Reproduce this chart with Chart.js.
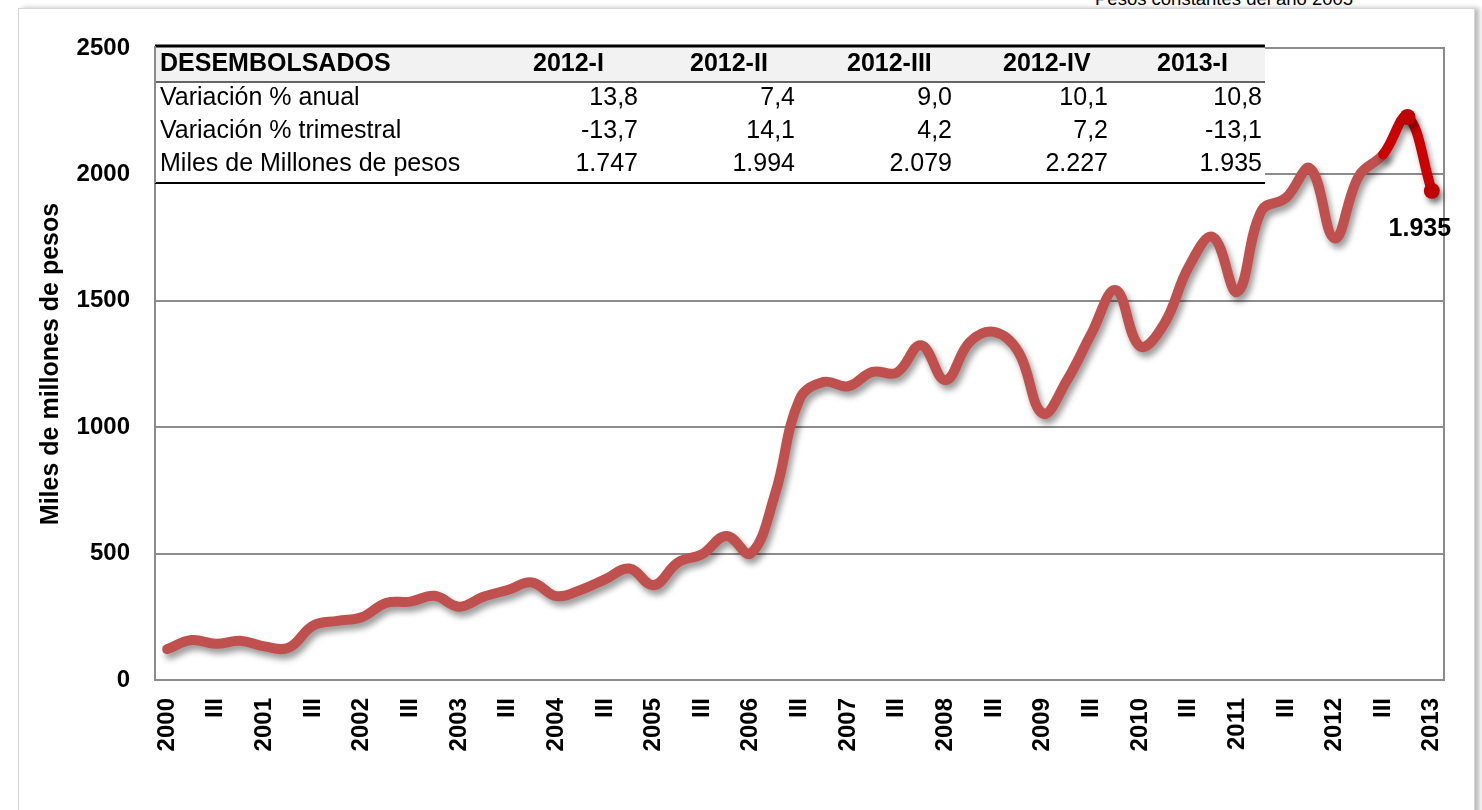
<!DOCTYPE html>
<html>
<head>
<meta charset="utf-8">
<script src="https://cdn.jsdelivr.net/npm/chart.js@4.4.1/dist/chart.umd.min.js"></script>
<style>
  html, body { margin:0; padding:0; background:#ffffff; width:1482px; height:810px; overflow:hidden; }
  #card { position:absolute; left:18px; top:8px; width:1455px; height:840px; border:1px solid #d4d4d4; box-shadow:4px 0 5px rgba(0,0,0,0.28); background:#fff; }
  #note { position:absolute; top:-12px; left:1095px; font:18.5px "Liberation Sans", Arial, sans-serif; color:#000; white-space:nowrap; }
  #c { position:absolute; left:0; top:0; }
</style>
</head>
<body>
<div id="card"></div>
<div id="note">Pesos constantes del año 2005</div>
<canvas id="c" width="1482" height="810"></canvas>
<script>
// ---- Data ----
const quarterLabels = [
  '2000','','III','', '2001','','III','', '2002','','III','', '2003','','III','',
  '2004','','III','', '2005','','III','', '2006','','III','', '2007','','III','',
  '2008','','III','', '2009','','III','', '2010','','III','', '2011','','III','',
  '2012','','III','', '2013'
];
const desembolsos = [
  122, 158, 143, 155, 133, 128, 215, 234, 248, 305, 310, 333, 290, 329, 356, 386,
  332, 356, 398, 441, 375, 465, 498, 570, 501, 738, 1110, 1179, 1162, 1219, 1216, 1324,
  1186, 1337, 1377, 1298, 1054, 1186, 1370, 1542, 1320, 1410, 1634, 1752, 1535, 1857, 1907, 2023,
  1747, 1994, 2079, 2227, 1935
];
const yTicks = [0, 500, 1000, 1500, 2000, 2500];
const tableHeader = 'DESEMBOLSADOS';
const tableCols = ['2012-I', '2012-II', '2012-III', '2012-IV', '2013-I'];
const rowNames = ['Variación % anual', 'Variación % trimestral', 'Miles de Millones de pesos'];
const varAnual = [13.8, 7.4, 9.0, 10.1, 10.8];
const varTrimestral = [-13.7, 14.1, 4.2, 7.2, -13.1];
const milesMillones = [1747, 1994, 2079, 2227, 1935];
const highlightFrom = 50; // index where the latest (bright red) segment begins

// ---- formatting (es) ----
function fmtDec(v){ return v.toFixed(1).replace('.', ','); }
function fmtInt(v){ return String(Math.round(v)).replace(/\B(?=(\d{3})+(?!\d))/g, '.'); }
const tableRows = [varAnual.map(fmtDec), varTrimestral.map(fmtDec), milesMillones.map(fmtInt)];

const FONT = '"Liberation Sans", Arial, sans-serif';

const overlay = {
  id: 'overlay',
  beforeDatasetsDraw(chart){
    const ctx = chart.ctx, a = chart.chartArea;
    ctx.save();
    // plot frame
    ctx.strokeStyle = '#8c8c8c'; ctx.lineWidth = 2;
    ctx.strokeRect(a.left, a.top, a.right - a.left, a.bottom - a.top);
    // table
    const L = a.left, T = a.top - 2, W = 1110, H = 137, hH = 36;
    ctx.fillStyle = '#ffffff'; ctx.fillRect(L, T, W, H);
    ctx.fillStyle = '#f2f2f2'; ctx.fillRect(L, T, W, hH);
    ctx.strokeStyle = '#000'; ctx.lineWidth = 3;
    ctx.beginPath(); ctx.moveTo(L, T); ctx.lineTo(L + W, T); ctx.stroke();
    ctx.lineWidth = 2;
    ctx.beginPath(); ctx.moveTo(L, T + H); ctx.lineTo(L + W, T + H); ctx.stroke();
    ctx.lineWidth = 1.5; ctx.strokeStyle = '#333';
    ctx.beginPath(); ctx.moveTo(L, T + hH); ctx.lineTo(L + W, T + hH); ctx.stroke();
    ctx.strokeStyle = '#8c8c8c'; ctx.lineWidth = 2;
    ctx.beginPath(); ctx.moveTo(L, T); ctx.lineTo(L, T + H); ctx.stroke();
    const colRight = [483, 640, 797, 953, 1107];
    ctx.fillStyle = '#000'; ctx.textBaseline = 'middle';
    ctx.font = 'bold 25px ' + FONT; ctx.textAlign = 'left';
    ctx.fillText(tableHeader, L + 5, T + 18);
    tableCols.forEach((c, i) => ctx.fillText(c, L + colRight[i] - 105, T + 18));
    ctx.font = '25px ' + FONT;
    const rowY = [52, 85, 118];
    rowNames.forEach((n, r) => {
      ctx.textAlign = 'left';
      ctx.fillText(n, L + 5, T + rowY[r]);
      ctx.textAlign = 'right';
      tableRows[r].forEach((v, i) => ctx.fillText(v, L + colRight[i], T + rowY[r]));
    });
    ctx.restore();
    // shadow for the line
    ctx.save();
    ctx.shadowColor = 'rgba(0,0,0,0.4)';
    ctx.shadowOffsetX = 3; ctx.shadowOffsetY = 5; ctx.shadowBlur = 6;
  },
  afterDatasetsDraw(chart){
    const ctx = chart.ctx;
    ctx.restore();
    const pts = chart.getDatasetMeta(0).data;
    const last = pts[pts.length - 1];
    ctx.save();
    ctx.font = 'bold 25px ' + FONT; ctx.fillStyle = '#000';
    ctx.textAlign = 'center'; ctx.textBaseline = 'middle';
    ctx.fillText(fmtInt(desembolsos[desembolsos.length - 1]), last.x - 12, last.y + 38);
    ctx.restore();
  }
};

new Chart(document.getElementById('c'), {
  type: 'line',
  data: {
    labels: quarterLabels,
    datasets: [{
      data: desembolsos,
      borderColor: '#C0504D',
      borderWidth: 10,
      borderCapStyle: 'round',
      borderJoinStyle: 'round',
      tension: 0.4,
      fill: false,
      segment: {
        borderColor: ctx => ctx.p0DataIndex >= highlightFrom ? '#CC0000' : '#C0504D'
      },
      pointRadius: ctx => ctx.dataIndex > highlightFrom ? 8 : 0,
      pointBackgroundColor: '#BF0000',
      pointBorderWidth: 0,
      pointHoverRadius: 0
    }]
  },
  options: {
    responsive: false,
    devicePixelRatio: 1,
    animation: false,
    events: [],
    layout: { padding: { left: 28, top: 48, right: 38, bottom: 50 } },
    plugins: { legend: { display: false }, tooltip: { enabled: false } },
    scales: {
      x: {
        offset: true,
        grid: { display: false, drawTicks: false },
        border: { display: true, color: '#8c8c8c', width: 2 },
        afterFit: s => { s.height = 80; },
        ticks: {
          autoSkip: false, maxRotation: 90, minRotation: 90,
          padding: 18, color: '#000',
          font: { family: FONT, size: 24, weight: 'bold' }
        }
      },
      y: {
        min: 0, max: 2500,
        afterFit: s => { s.width = 127; },
        afterBuildTicks: s => { s.ticks = yTicks.map(v => ({ value: v })); },
        grid: { color: '#8c8c8c', lineWidth: 2, drawTicks: false },
        border: { display: true, color: '#8c8c8c', width: 2 },
        ticks: {
          padding: 25, color: '#000',
          font: { family: FONT, size: 24, weight: 'bold' },
          callback: v => String(v)
        },
        title: {
          display: true, text: 'Miles de millones de pesos', color: '#000',
          padding: { top: 8, bottom: 0 },
          font: { family: FONT, size: 25, weight: 'bold' }
        }
      }
    }
  },
  plugins: [overlay]
});
</script>
</body>
</html>
